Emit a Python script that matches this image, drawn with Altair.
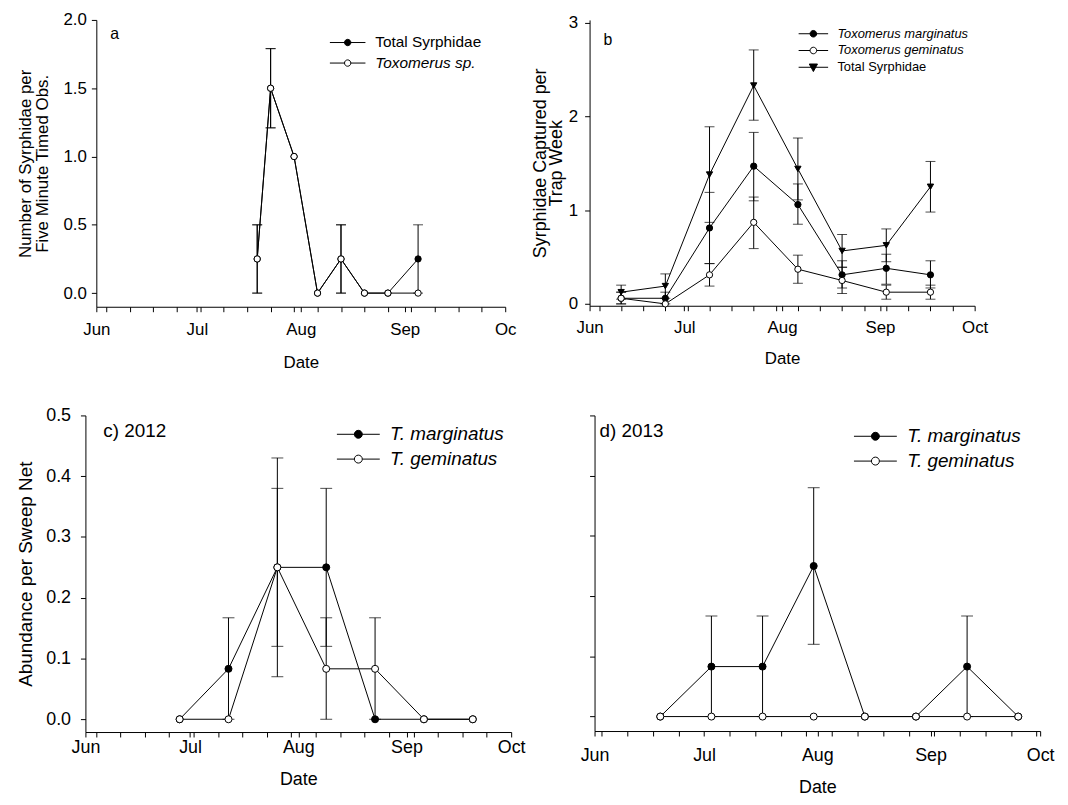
import json
import altair as alt
import pandas as pd

FONT = "Liberation Sans"

# ---------------- data ----------------
# Panel a (timed observations, 2012)
a_dates = ["2012-07-19", "2012-07-23", "2012-07-30", "2012-08-06", "2012-08-13",
           "2012-08-20", "2012-08-27", "2012-09-05"]
a_total = [0.25, 1.5, 1.0, 0.0, 0.25, 0.0, 0.0, 0.25]
a_total_lo = [0.0, 1.21, None, None, 0.0, None, None, 0.0]
a_total_hi = [0.5, 1.79, None, None, 0.5, None, None, 0.5]
a_tox = [0.25, 1.5, 1.0, 0.0, 0.25, 0.0, 0.0, 0.0]
a_tox_lo = [0.0, 1.21, None, None, 0.0, None, None, None]
a_tox_hi = [0.5, 1.79, None, None, 0.5, None, None, None]

# Panel b (traps, 2012)
b_dates = ["2012-06-11", "2012-06-25", "2012-07-09", "2012-07-23", "2012-08-06",
           "2012-08-20", "2012-09-03", "2012-09-17"]
b_marg = [0.06, 0.06, 0.81, 1.47, 1.06, 0.31, 0.38, 0.31]
b_marg_lo = [0.0, 0.0, 0.43, 1.10, 0.85, 0.17, 0.21, 0.17]
b_marg_hi = [0.125, 0.125, 1.19, 1.83, 1.28, 0.46, 0.53, 0.46]
b_gem = [0.06, 0.0, 0.31, 0.87, 0.37, 0.25, 0.125, 0.125]
b_gem_lo = [0.0, None, 0.19, 0.59, 0.22, 0.11, 0.05, 0.05]
b_gem_hi = [0.125, None, 0.43, 1.14, 0.52, 0.39, 0.20, 0.20]
b_total = [0.125, 0.19, 1.38, 2.33, 1.44, 0.565, 0.625, 1.25]
b_total_lo = [0.05, 0.06, 0.87, 1.96, 1.11, 0.39, 0.45, 0.98]
b_total_hi = [0.20, 0.32, 1.89, 2.71, 1.77, 0.74, 0.80, 1.52]

# Panel c (sweep net, 2012)
c_dates = ["2012-06-28", "2012-07-12", "2012-07-26", "2012-08-09", "2012-08-23",
           "2012-09-06", "2012-09-20"]
c_marg = [0.0, 0.083, 0.25, 0.25, 0.0, 0.0, 0.0]
c_marg_lo = [None, 0.0, 0.07, 0.12, None, None, None]
c_marg_hi = [None, 0.167, 0.43, 0.38, None, None, None]
c_gem = [0.0, 0.0, 0.25, 0.083, 0.083, 0.0, 0.0]
c_gem_lo = [None, None, 0.12, 0.0, 0.0, None, None]
c_gem_hi = [None, None, 0.38, 0.167, 0.167, None, None]

# Panel d (sweep net, 2013)
d_dates = ["2013-06-19", "2013-07-03", "2013-07-17", "2013-07-31", "2013-08-14",
           "2013-08-28", "2013-09-11", "2013-09-25"]
d_marg = [0.0, 0.083, 0.083, 0.25, 0.0, 0.0, 0.083, 0.0]
d_marg_lo = [None, 0.0, 0.0, 0.12, None, None, 0.0, None]
d_marg_hi = [None, 0.167, 0.167, 0.38, None, None, 0.167, None]
d_gem = [0.0, 0.0, 0.0, 0.0, 0.0, 0.0, 0.0, 0.0]
d_gem_lo = [None] * 8
d_gem_hi = [None] * 8

# axis ticks / labels
ticks_2012 = ["2012-06-01", "2012-06-04", "2012-06-11", "2012-06-18", "2012-06-25",
              "2012-07-01", "2012-07-02", "2012-07-09", "2012-07-16", "2012-07-23",
              "2012-07-30", "2012-08-01", "2012-08-06", "2012-08-13", "2012-08-20",
              "2012-08-27", "2012-09-01", "2012-09-03", "2012-09-10", "2012-09-17",
              "2012-09-24", "2012-10-01"]
ticks_2013 = ["2013-06-01", "2013-06-03", "2013-06-10", "2013-06-17", "2013-06-24",
              "2013-07-01", "2013-07-08", "2013-07-15", "2013-07-22", "2013-07-29",
              "2013-08-01", "2013-08-05", "2013-08-12", "2013-08-19", "2013-08-26",
              "2013-09-01", "2013-09-02", "2013-09-09", "2013-09-16", "2013-09-23",
              "2013-09-30", "2013-10-01"]
months_a = ["Jun", "Jul", "Aug", "Sep", "Oc"]
months = ["Jun", "Jul", "Aug", "Sep", "Oct"]
a_yticks = [0.0, 0.5, 1.0, 1.5, 2.0]
b_yticks = [0, 1, 2, 3]
cd_yticks = [0.0, 0.1, 0.2, 0.3, 0.4, 0.5]

a_names = ["Total Syrphidae", "Toxomerus sp."]
b_names = ["Toxomerus marginatus", "Toxomerus geminatus", "Total Syrphidae"]
cd_names = ["T. marginatus", "T. geminatus"]


def dt(s):
    y, m, d = (int(v) for v in s.split("-"))
    return alt.DateTime(year=y, month=m, date=d, utc=True)


def make_df(dates, series):
    rows = []
    for name, vals, lo, hi in series:
        for d, v, l, h in zip(dates, vals, lo, hi):
            rows.append({"date": d, "series": name, "value": v, "lo": l, "hi": h})
    return pd.DataFrame(rows)


def sym_path(kind, half):
    circ = "M1,0A1,1 0 1,1 -1,0A1,1 0 1,1 1,0Z"
    if kind == "filled":
        return f"M{-half},0L{half},0" + circ
    if kind == "open":
        return f"M{-half},0L-1,0M1,0L{half},0" + circ
    return f"M{-half},0L{half},0M-1.25,-1L1.25,-1L0,1.3Z"


def panel(df, names, styles, x_dom, x_ticks, mlabels, x_range, y_dom, y_ticks, y_fmt,
          y_title, width, height, fs, tfs, y_off, y_lab_pad, y_title_x, y_title_lh,
          x_lab_pad, x_title_pad, y_labels, tag, tag_fs, tag_dx, tag_off, leg, pt_size, cap):
    label_expr = ("utcdate(datum.value) == 1 ? " + json.dumps(mlabels)
                  + "[utcmonth(datum.value) - 5] : ''")
    sc_kw = dict(type="utc", domain=[dt(x_dom[0]), dt(x_dom[1])])
    if x_range is not None:
        sc_kw["range"] = x_range
    xscale = alt.Scale(**sc_kw)
    xaxis = alt.Axis(values=[dt(t) for t in x_ticks], labelExpr=label_expr, tickSize=5,
                     labelFontSize=fs, titleFontSize=fs, labelFont=FONT, titleFont=FONT,
                     titleFontWeight="normal", labelColor="black", titleColor="black",
                     domainColor="black", tickColor="black", grid=False, labelFlush=False,
                     labelOverlap=False, labelPadding=x_lab_pad, titlePadding=x_title_pad,
                     title="Date")
    yscale = alt.Scale(domain=y_dom, nice=False, zero=False)
    ax_kw = dict(values=y_ticks, format=y_fmt, tickSize=5, labels=y_labels,
                 labelFontSize=fs, titleFontSize=tfs, labelFont=FONT, titleFont=FONT,
                 titleFontWeight="normal", labelColor="black", titleColor="black",
                 domainColor="black", tickColor="black", grid=False, offset=y_off,
                 labelPadding=y_lab_pad, titleLineHeight=y_title_lh)
    if y_title is not None:
        ax_kw["title"] = y_title
        ax_kw["titleX"] = y_title_x
        ax_kw["titleBaseline"] = "middle"
    else:
        ax_kw["title"] = ""
    yaxis = alt.Axis(**ax_kw)
    x = alt.X("date:T", scale=xscale, axis=xaxis)

    def y(field):
        return alt.Y(field, scale=yscale, axis=yaxis)

    base = alt.Chart(df)
    err = base.transform_filter("isValid(datum.lo)")
    rules = err.mark_rule(color="black", strokeWidth=1).encode(x=x, y=y("lo:Q"), y2="hi:Q")
    caps = err.transform_fold(["lo", "hi"], as_=["cap", "capv"]).mark_tick(
        orient="horizontal", size=cap, thickness=1, color="black").encode(x=x, y=y("capv:Q"))
    lines = base.mark_line(color="black", strokeWidth=1).encode(
        x=x, y=y("value:Q"), detail="series:N")
    layers = [rules, caps, lines]
    for name in names:
        shape, fill = styles[name]
        layers.append(
            base.transform_filter(alt.datum.series == name).mark_point(
                shape=shape, size=pt_size, filled=True, fill=fill, stroke="black",
                strokeWidth=1, opacity=1).encode(x=x, y=y("value:Q"))
        )
    # legend layer (no drawn marks, only the legend)
    lx, ly, r, half, lab_off, row_pad, lfs = leg
    paths = []
    whites = []
    for name in names:
        shape, fill = styles[name]
        if shape == "triangle-down":
            paths.append(sym_path("tri", half))
        elif fill == "white":
            paths.append(sym_path("open", half))
        else:
            paths.append(sym_path("filled", half))
        if fill == "white":
            whites.append(name)
    legend = alt.Legend(title=None, orient="none", legendX=lx, legendY=ly,
                        symbolSize=(2 * r) ** 2, symbolStrokeWidth=1, symbolOpacity=1,
                        labelOffset=lab_off, rowPadding=row_pad, labelFontSize=lfs,
                        labelFont=FONT, labelColor="black", padding=0, labelLimit=400,
                        labelFontStyle=alt.ExprRef(
                            "datum.label == 'Total Syrphidae' ? 'normal' : 'italic'"))
    fill_expr = "indexof(" + json.dumps(whites) + ", datum.label) >= 0 ? 'white' : 'black'"
    leg_layer = alt.Chart(pd.DataFrame({"series": names})).transform_filter("false").mark_point(
        filled=True, fill=alt.ExprRef(fill_expr), stroke="black", strokeWidth=1,
        opacity=1).encode(
        shape=alt.Shape("series:N", scale=alt.Scale(domain=names, range=paths), legend=legend),
    )
    layers.append(leg_layer)
    title = alt.TitleParams(tag, anchor="start", frame="group", orient="top", fontSize=tag_fs,
                            font=FONT, fontWeight="normal", color="black", baseline="top",
                            offset=tag_off, dx=tag_dx)
    return alt.layer(*layers).properties(width=width, height=height, title=title)


a_df = make_df(a_dates, [("Total Syrphidae", a_total, a_total_lo, a_total_hi),
                         ("Toxomerus sp.", a_tox, a_tox_lo, a_tox_hi)])
b_df = make_df(b_dates, [("Total Syrphidae", b_total, b_total_lo, b_total_hi),
                         ("Toxomerus marginatus", b_marg, b_marg_lo, b_marg_hi),
                         ("Toxomerus geminatus", b_gem, b_gem_lo, b_gem_hi)])
c_df = make_df(c_dates, [("T. marginatus", c_marg, c_marg_lo, c_marg_hi),
                         ("T. geminatus", c_gem, c_gem_lo, c_gem_hi)])
d_df = make_df(d_dates, [("T. marginatus", d_marg, d_marg_lo, d_marg_hi),
                         ("T. geminatus", d_gem, d_gem_lo, d_gem_hi)])

styles_a = {"Total Syrphidae": ("circle", "black"), "Toxomerus sp.": ("circle", "white")}
styles_b = {"Toxomerus marginatus": ("circle", "black"),
            "Toxomerus geminatus": ("circle", "white"),
            "Total Syrphidae": ("triangle-down", "black")}
styles_cd = {"T. marginatus": ("circle", "black"), "T. geminatus": ("circle", "white")}

pa = panel(a_df, a_names, styles_a, ("2012-06-01", "2012-10-01"), ticks_2012, months_a,
           [11, 423], [-0.1, 2.0], a_yticks, ".1f",
           ["Number of Syrphidae per", "Five Minute Timed Obs."], 423, 289, 17, 17,
           -11, 5, -71, 16.5, 10, 17, True, "a", 16, 25, -31,
           (256.5, 15, 3.2, 5.6, 20, 3.7, 15.5), 40, 10)
pb = panel(b_df, b_names, styles_b, ("2012-06-01", "2012-10-01"), ticks_2012, months,
           None, [-0.02, 3.03], b_yticks, "d",
           ["Syrphidae Captured per", "Trap Week"], 388, 288, 17, 18,
           0, 7, -49.5, 16.5, 9, 15, True, "b", 16, 14, -34,
           (219, 7.4, 3.3, 4.5, 17.7, 2.9, 13), 40, 10)
pc = panel(c_df, cd_names, styles_cd, ("2012-06-01", "2012-10-01"), ticks_2012, months,
           None, [-0.021, 0.5], cd_yticks, ".1f",
           "Abundance per Sweep Net", 429, 319, 18, 19,
           0, 10, -60, 18, 2, 14, True, "c) 2012", 19, 18, -34.5,
           (265.5, 9.5, 4, 5.4, 22.5, 5, 19), 50, 12)
pd_ = panel(d_df, cd_names, styles_cd, ("2013-06-01", "2013-10-01"), ticks_2013, months,
            [5, 454], [-0.024, 0.5], cd_yticks, ".1f",
            None, 454, 318, 18, 19,
            -5, 10, 0, 18, 11, 14, False, "d) 2013", 19, 10, -26.5,
            (278.5, 11.5, 4, 5.4, 22.5, 5, 19), 50, 12)

chart = alt.concat(
    pa, pb, pc, pd_, columns=2, spacing={"row": 109.5, "column": 79},
    bounds="flush", align="none"
).resolve_scale(shape="independent").resolve_legend(shape="independent").properties(
    padding={"left": 8, "top": -1, "right": 5, "bottom": 5}, background="white"
).configure_view(stroke="transparent")

chart.save("out.html", embed_options={"renderer": "svg", "actions": False})
